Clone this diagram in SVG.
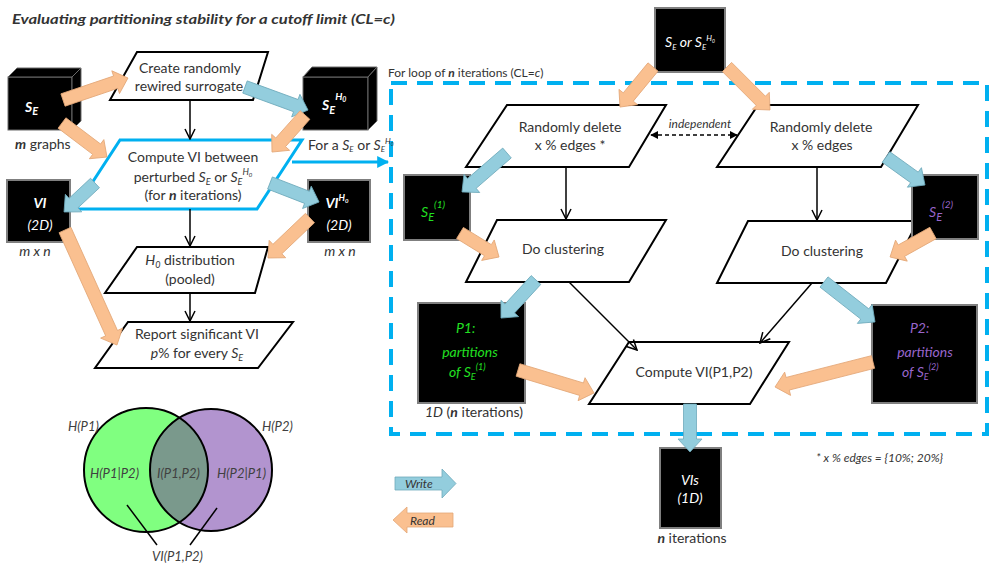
<svg xmlns="http://www.w3.org/2000/svg" width="990" height="564" viewBox="0 0 990 564">
<defs>
<style>
.t{font-family:Lato,"Liberation Sans",sans-serif;font-size:14px;fill:#333}
.s{font-size:12px}
.w{fill:#fff}
.i{font-style:italic}
.b{font-weight:bold}
.pg{fill:#fff;stroke:#000;stroke-width:2;stroke-linejoin:miter}
.bx{fill:#000;stroke:#7f7f7f;stroke-width:2}
.bx3{fill:#000;stroke:#6a6a6a;stroke-width:1}
.rd{fill:#FAC090;stroke:#E3A777;stroke-width:0.8}
.wr{fill:#93CDDD;stroke:#6FAABB;stroke-width:0.8}
.ln{stroke:#000;stroke-width:1.5;fill:none}
.g{fill:#22E022}
.p{fill:#9966CC}
.v{font-family:Lato,"Liberation Sans",sans-serif;font-size:13px;font-style:italic;fill:#404040}
</style>
<marker id="open" viewBox="0 0 12 12" refX="11" refY="6" markerWidth="12" markerHeight="12" markerUnits="userSpaceOnUse" orient="auto">
<path d="M1,1 L11,6 L1,11" fill="none" stroke="#000" stroke-width="1.5"/>
</marker>
<marker id="tri" viewBox="0 0 10 10" refX="9" refY="5" markerWidth="8" markerHeight="8" markerUnits="userSpaceOnUse" orient="auto-start-reverse">
<path d="M0,0 L10,5 L0,10 Z" fill="#000"/>
</marker>
<marker id="cy" viewBox="0 0 10 10" refX="9" refY="5" markerWidth="12" markerHeight="12" markerUnits="userSpaceOnUse" orient="auto">
<path d="M0,0 L10,5 L0,10 Z" fill="#00B0F0"/>
</marker>
<clipPath id="gc"><circle cx="146" cy="470" r="62"/></clipPath>
</defs>
<rect width="990" height="564" fill="#fff"/>

<text class="t i b" x="12" y="24" font-size="15" textLength="383" lengthAdjust="spacingAndGlyphs">Evaluating partitioning stability for a cutoff limit (CL=<tspan>c</tspan>)</text>

<!-- dashed loop frame -->
<g id="loop">
<rect x="391" y="83" width="596" height="351" fill="none" stroke="#00B0F0" stroke-width="4" stroke-dasharray="16 10"/>
<text class="t s" x="388" y="77" font-size="13">For loop of <tspan class="i b">n</tspan> iterations (CL=<tspan class="i">c</tspan>)</text>
</g>

<g id="se">
<rect class="bx3" x="8" y="77" width="64" height="53"/>
<polygon class="bx3" points="8,77 17,68 81,68 72,77"/>
<polygon class="bx3" points="72,77 81,68 81,121 72,130"/>
<text class="t w i b" x="25" y="112" font-size="18">S<tspan font-size="11" dy="3">E</tspan></text>
<text class="t" x="15" y="149"><tspan class="i b">m</tspan> graphs</text>
</g>

<g id="seh0">
<rect class="bx3" x="303" y="77" width="65" height="53"/>
<polygon class="bx3" points="303,77 312,67 377,67 368,77"/>
<polygon class="bx3" points="368,77 377,67 377,121 368,130"/>
<text class="t w i b" x="322" y="110" font-size="18">S<tspan font-size="11" dy="4">E</tspan><tspan font-size="10" dy="-14">H</tspan><tspan font-size="7" dy="2">0</tspan></text>
</g>

<g id="create">
<polygon class="pg" points="137,52 268,52 253,100 110,100"/>
<text class="t" x="190" y="73" text-anchor="middle">Create randomly</text>
<text class="t" x="189" y="91" text-anchor="middle">rewired surrogate</text>
</g>

<g id="computeVI">
<polygon points="120,140 302,140 257,209 75,209" fill="#fff" stroke="#00B0F0" stroke-width="3"/>
<text class="t" x="193" y="162" text-anchor="middle">Compute VI between</text>
<text class="t" x="193" y="182" text-anchor="middle">perturbed <tspan class="i">S</tspan><tspan class="i" font-size="9" dy="3">E</tspan><tspan dy="-3"> or </tspan><tspan class="i">S</tspan><tspan class="i" font-size="9" dy="3">E</tspan><tspan class="i" font-size="9" dy="-10">H</tspan><tspan class="i" font-size="6" dy="2">0</tspan></text>
<text class="t" x="193" y="200" text-anchor="middle">(for <tspan class="i b">n</tspan> iterations)</text>
<text class="t" x="308" y="150" font-size="11">For a <tspan class="i">S</tspan><tspan class="i" font-size="8" dy="2">E</tspan><tspan dy="-2"> or </tspan><tspan class="i">S</tspan><tspan class="i" font-size="8" dy="2">E</tspan><tspan class="i" font-size="8" dy="-8">H</tspan><tspan class="i" font-size="5" dy="2">0</tspan></text>
</g>

<g id="vi">
<rect class="bx" x="7" y="180" width="63" height="62"/>
<text class="t w i b" x="40" y="208" text-anchor="middle" font-size="16">VI</text>
<text class="t w i" x="40" y="230" text-anchor="middle" font-size="10">(2D)</text>
<text class="t i" x="35" y="256" text-anchor="middle" font-size="12">m x n</text>
</g>

<g id="vih0">
<rect class="bx" x="308" y="180" width="62" height="62"/>
<text class="t w i b" x="337" y="208" text-anchor="middle" font-size="16">VI<tspan font-size="9" dy="-7">H</tspan><tspan font-size="6" dy="2">0</tspan></text>
<text class="t w i" x="339" y="230" text-anchor="middle" font-size="10">(2D)</text>
<text class="t i" x="340" y="256" text-anchor="middle" font-size="12">m x n</text>
</g>

<g id="h0dist">
<polygon class="pg" points="137,247 268,247 255,293 105,293"/>
<text class="t" x="190" y="265" text-anchor="middle"><tspan class="i">H</tspan><tspan class="i" font-size="9" dy="3">0</tspan><tspan dy="-3"> distribution</tspan></text>
<text class="t" x="190" y="284" text-anchor="middle">(pooled)</text>
</g>

<g id="report">
<polygon class="pg" points="128,322 293,322 258,368 95,368"/>
<text class="t" x="197" y="339" text-anchor="middle">Report significant VI</text>
<text class="t" x="197" y="358" text-anchor="middle"><tspan class="i">p</tspan>% for every <tspan class="i">S</tspan><tspan class="i" font-size="9" dy="3">E</tspan></text>
</g>

<g id="venn">
<circle cx="146" cy="470" r="62" fill="#80FF80"/>
<circle cx="211" cy="470" r="61" fill="#B294CF"/>
<circle cx="211" cy="470" r="61" fill="#7A998C" clip-path="url(#gc)"/>
<circle cx="146" cy="470" r="62" fill="none" stroke="#000" stroke-width="2"/>
<circle cx="211" cy="470" r="61" fill="none" stroke="#000" stroke-width="2"/>
<text class="v" x="68" y="431">H(P1)</text>
<text class="v" x="262" y="431">H(P2)</text>
<text class="v" x="90" y="478">H(P1|P2)</text>
<text class="v" x="157" y="478">I(P1,P2)</text>
<text class="v" x="217" y="478">H(P2|P1)</text>
<text class="v" x="152" y="561">VI(P1,P2)</text>
<line class="ln" x1="127" y1="505" x2="157" y2="545"/>
<line class="ln" x1="217" y1="508" x2="190" y2="545"/>
</g>

<g id="legend">
<polygon class="wr" points="395,477 442,477 442,469 456,483.5 442,498 442,490 395,490"/>
<text class="t i s" x="405" y="488">Write</text>
<polygon class="rd" points="393,520 407,507 407,513 453,513 453,527 407,527 407,533"/>
<text class="t i s" x="410" y="525">Read</text>
</g>

<g id="src">
<rect class="bx" x="655" y="8" width="70" height="64"/>
<text class="t w i" x="690" y="47" text-anchor="middle" font-size="12">S<tspan font-size="8" dy="3">E</tspan><tspan dy="-3"> or S</tspan><tspan font-size="8" dy="3">E</tspan><tspan font-size="8" dy="-9">H</tspan><tspan font-size="5" dy="2">0</tspan></text>
</g>

<g id="del1">
<polygon class="pg" points="507,105 666,105 629,167 466,167"/>
<text class="t" x="570" y="132" text-anchor="middle">Randomly delete</text>
<text class="t" x="570" y="150" text-anchor="middle">x % edges *</text>
</g>

<g id="del2">
<polygon class="pg" points="758,105 918,105 881,167 717,167"/>
<text class="t" x="821" y="132" text-anchor="middle">Randomly delete</text>
<text class="t" x="822" y="150" text-anchor="middle">x % edges</text>
</g>

<g id="indep">
<text class="t i s" x="700" y="128" text-anchor="middle">independent</text>
</g>

<g id="se1">
<rect class="bx" x="404" y="175" width="66" height="65"/>
<text class="t i g" x="421" y="217" font-size="17">S<tspan font-size="11" dy="4">E</tspan><tspan font-size="10" dy="-13">(1)</tspan></text>
</g>

<g id="clust1">
<polygon class="pg" points="497,220 666,220 629,282 466,282"/>
<text class="t" x="563" y="254" text-anchor="middle">Do clustering</text>
</g>

<g id="clust2">
<polygon class="pg" points="748,221 918,221 886,283 717,283"/>
<text class="t" x="822" y="256" text-anchor="middle">Do clustering</text>
</g>

<g id="se2">
<rect class="bx" x="912" y="175" width="66" height="64"/>
<text class="t i p" x="929" y="217" font-size="17">S<tspan font-size="11" dy="4">E</tspan><tspan font-size="10" dy="-13">(2)</tspan></text>
</g>

<g id="p1">
<rect class="bx" x="418" y="303" width="107" height="100"/>
<text class="t i g" x="456" y="333" font-size="21">P1<tspan font-size="13">:</tspan></text>
<text class="t i g" x="470" y="357" text-anchor="middle" font-size="14">partitions</text>
<text class="t i g" x="449" y="377" font-size="14">of S<tspan font-size="9" dy="3">E</tspan><tspan font-size="9" dy="-10">(1)</tspan></text>
<text class="t" x="425" y="417" font-size="13"><tspan class="i">1D</tspan> (<tspan class="i b">n</tspan> iterations)</text>
</g>

<g id="p2">
<rect class="bx" x="872" y="305" width="105" height="98"/>
<text class="t i p" x="910" y="333" font-size="21">P2<tspan font-size="13">:</tspan></text>
<text class="t i p" x="925" y="357" text-anchor="middle" font-size="14">partitions</text>
<text class="t i p" x="902" y="377" font-size="14">of S<tspan font-size="9" dy="3">E</tspan><tspan font-size="9" dy="-10">(2)</tspan></text>
</g>

<g id="computeVIP">
<polygon class="pg" points="629,342 789,342 750,404 589,404"/>
<text class="t" x="694" y="377" text-anchor="middle">Compute VI(P1,P2)</text>
</g>

<g id="vis">
<rect class="bx" x="660" y="448" width="61" height="80"/>
<text class="t w i" x="690" y="485" text-anchor="middle" font-size="13">VIs</text>
<text class="t w i" x="690" y="503" text-anchor="middle" font-size="13">(1D)</text>
<text class="t" x="692" y="543" text-anchor="middle" font-size="15"><tspan class="i b">n</tspan> iterations</text>
</g>

<text class="t i s" x="816" y="462">* x % edges = {10%; 20%}</text>

<g id="connectors">
<line class="ln" x1="190" y1="100" x2="190" y2="139" marker-end="url(#open)"/>
<line class="ln" x1="190" y1="209" x2="190" y2="246" marker-end="url(#open)"/>
<line class="ln" x1="190" y1="293" x2="190" y2="321" marker-end="url(#open)"/>
<line class="ln" x1="566" y1="167" x2="566" y2="219" marker-end="url(#open)"/>
<line class="ln" x1="817" y1="167" x2="817" y2="220" marker-end="url(#open)"/>
<line class="ln" x1="569" y1="282" x2="637" y2="350" marker-end="url(#open)"/>
<line class="ln" x1="812" y1="283" x2="760" y2="343" marker-end="url(#open)"/>
<line x1="651" y1="135" x2="737" y2="135" stroke="#000" stroke-width="1.5" stroke-dasharray="4 3" marker-start="url(#tri)" marker-end="url(#tri)"/>
<polyline points="292,162 388,162" fill="none" stroke="#00B0F0" stroke-width="3" marker-end="url(#cy)"/>

<polygon class="rd" transform="translate(63,100) rotate(-18.7)" points="0,-6.5 55.6,-6.5 55.6,-12 68.6,0 55.6,12 55.6,6.5 0,6.5"/>
<polygon class="rd" transform="translate(62,123) rotate(37.1)" points="0,-6.5 43.4,-6.5 43.4,-12 56.4,0 43.4,12 43.4,6.5 0,6.5"/>
<polygon class="wr" transform="translate(245,87) rotate(20.1)" points="0,-6.5 54.1,-6.5 54.1,-12 67.1,0 54.1,12 54.1,6.5 0,6.5"/>
<polygon class="rd" transform="translate(305,115) rotate(131.7)" points="0,-6.5 36.6,-6.5 36.6,-12 49.6,0 36.6,12 36.6,6.5 0,6.5"/>
<polygon class="wr" transform="translate(95,183) rotate(136.9)" points="0,-6.5 29.4,-6.5 29.4,-12 42.4,0 29.4,12 29.4,6.5 0,6.5"/>
<polygon class="wr" transform="translate(270,183) rotate(21.2)" points="0,-6.5 39.6,-6.5 39.6,-12 52.6,0 39.6,12 39.6,6.5 0,6.5"/>
<polygon class="rd" transform="translate(310,218) rotate(136.4)" points="0,-6.5 45,-6.5 45,-12 58,0 45,12 45,6.5 0,6.5"/>
<polygon class="rd" transform="translate(65,230) rotate(65.7)" points="0,-6.5 113.2,-6.5 113.2,-12 126.2,0 113.2,12 113.2,6.5 0,6.5"/>
<polygon class="rd" transform="translate(653,67) rotate(129.5)" points="0,-6.5 38.9,-6.5 38.9,-12 51.9,0 38.9,12 38.9,6.5 0,6.5"/>
<polygon class="rd" transform="translate(727,67) rotate(45)" points="0,-6.5 47.8,-6.5 47.8,-12 60.8,0 47.8,12 47.8,6.5 0,6.5"/>
<polygon class="wr" transform="translate(507,153) rotate(139.1)" points="0,-6.5 46.5,-6.5 46.5,-12 59.5,0 46.5,12 46.5,6.5 0,6.5"/>
<polygon class="wr" transform="translate(886,157) rotate(35.7)" points="0,-6.5 35,-6.5 35,-12 48,0 35,12 35,6.5 0,6.5"/>
<polygon class="rd" transform="translate(460,233) rotate(31.6)" points="0,-6.5 32.8,-6.5 32.8,-12 45.8,0 32.8,12 32.8,6.5 0,6.5"/>
<polygon class="rd" transform="translate(933,233) rotate(150.8)" points="0,-6.5 36.2,-6.5 36.2,-12 49.2,0 36.2,12 36.2,6.5 0,6.5"/>
<polygon class="wr" transform="translate(536,280) rotate(132.6)" points="0,-6.5 38.7,-6.5 38.7,-12 51.7,0 38.7,12 38.7,6.5 0,6.5"/>
<polygon class="wr" transform="translate(824,282) rotate(38.1)" points="0,-6.5 51.8,-6.5 51.8,-12 64.8,0 51.8,12 51.8,6.5 0,6.5"/>
<polygon class="rd" transform="translate(518,370) rotate(16.8)" points="0,-6.5 66.4,-6.5 66.4,-12 79.4,0 66.4,12 66.4,6.5 0,6.5"/>
<polygon class="rd" transform="translate(873,362) rotate(165.7)" points="0,-6.5 88.1,-6.5 88.1,-12 101.1,0 88.1,12 88.1,6.5 0,6.5"/>
<polygon class="wr" transform="translate(690,404) rotate(90)" points="0,-6.5 35,-6.5 35,-12 48,0 35,12 35,6.5 0,6.5"/>
</g>
</svg>
